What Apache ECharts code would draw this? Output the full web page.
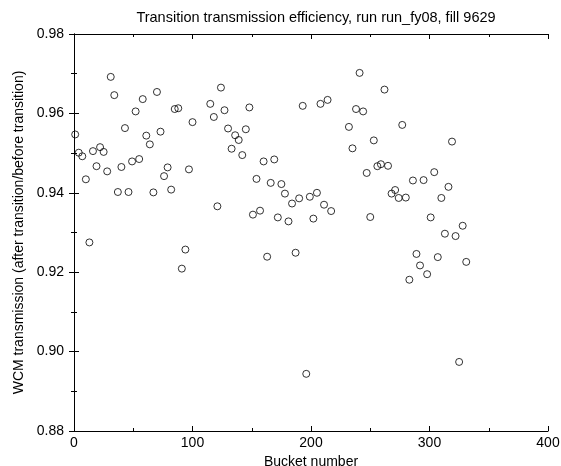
<!DOCTYPE html>
<html>
<head>
<meta charset="utf-8">
<script src="https://cdn.jsdelivr.net/npm/echarts@6/dist/echarts.min.js"></script>
<style>html,body{margin:0;padding:0;background:#fff}#c{width:561px;height:466px}</style>
</head>
<body>
<div id="c"></div>
<script>
const buckets = [1,4,7,10,13,16,19,22,25,28,31,34,37,40,43,46,49,52,55,58,61,64,67,70,73,76,79,82,85,88,91,94,97,100,
115,118,121,124,127,130,133,136,139,142,145,148,151,154,157,160,163,166,169,172,175,178,181,184,187,190,193,196,199,202,205,208,211,214,217,
232,235,238,241,244,247,250,253,256,259,262,265,268,271,274,277,280,283,286,289,292,295,298,301,304,307,310,313,316,319,322,325,328,331];
const transmission = [0.9547,0.9501,0.9492,0.9434,0.9275,0.9505,0.9467,0.9515,0.9503,0.9454,0.9692,0.9646,0.9402,0.9465,0.9563,0.9402,0.9479,0.9605,0.9485,0.9636,0.9544,0.9522,0.9401,0.9654,0.9554,0.9442,0.9464,0.9408,0.9611,0.9613,0.9209,0.9257,0.9459,0.9578,
0.9624,0.9591,0.9366,0.9665,0.9608,0.9562,0.9511,0.9545,0.9533,0.9495,0.9560,0.9615,0.9345,0.9435,0.9355,0.9479,0.9239,0.9425,0.9484,0.9338,0.9422,0.9398,0.9328,0.9373,0.9249,0.9386,0.9619,0.8944,0.9390,0.9335,0.9400,0.9624,0.9370,0.9634,0.9354,
0.9566,0.9512,0.9611,0.9702,0.9605,0.9450,0.9339,0.9532,0.9467,0.9472,0.9660,0.9468,0.9398,0.9407,0.9387,0.9571,0.9388,0.9181,0.9431,0.9246,0.9217,0.9432,0.9195,0.9338,0.9452,0.9238,0.9387,0.9297,0.9415,0.9529,0.9291,0.8974,0.9317,0.9226];
const titleText = 'Transition transmission efficiency, run run_fy08, fill 9629';
const xName = 'Bucket number';
const yName = 'WCM transmission (after transition/before transition)';

const font = 'Liberation Sans, Arial, sans-serif';
const chart = echarts.init(document.getElementById('c'), null, {renderer:'canvas'});
function mkAxis(extra, major, showLine){
  return Object.assign({
    type:'value',
    axisLine:{show:showLine,lineStyle:{color:'#000',width:1}},
    axisTick:{show:true,inside:true,length:major?5:3,lineStyle:{color:'#000',width:1}},
    axisLabel:{show:false},
    splitLine:{show:false}
  }, extra);
}
const xr = {min:0,max:400};
const yr = {min:0.88,max:0.98};
chart.setOption({
  animation:false,
  backgroundColor:'#fff',
  title:{text:titleText,left:311,textAlign:'center',top:5,textStyle:{fontFamily:font,fontSize:14.5,fontWeight:'normal',color:'#000'}},
  grid:{left:74,right:13,top:34,bottom:35,containLabel:false,outerBoundsMode:'none'},
  xAxis:[
    mkAxis(Object.assign({interval:100,position:'bottom',
      name:xName,nameLocation:'middle',nameGap:22,nameTextStyle:{fontFamily:font,fontSize:14,color:'#000'},
      axisLabel:{show:true,fontFamily:font,fontSize:14,color:'#000',margin:5}},xr),true,true),
    mkAxis(Object.assign({interval:50,position:'bottom'},xr),false,false),
    mkAxis(Object.assign({interval:100,position:'top'},xr),true,true),
    mkAxis(Object.assign({interval:50,position:'top'},xr),false,false)
  ],
  yAxis:[
    mkAxis(Object.assign({interval:0.02,position:'left',
      name:yName,nameLocation:'middle',nameGap:44,nameTextStyle:{fontFamily:font,fontSize:14,color:'#000'},
      axisLabel:{show:true,fontFamily:font,fontSize:14,color:'#000',margin:10,formatter:v=>v.toFixed(2)}},yr),true,true),
    mkAxis(Object.assign({interval:0.01,position:'left'},yr),false,false),
    mkAxis(Object.assign({interval:0.02,position:'right'},yr),true,true),
    mkAxis(Object.assign({interval:0.01,position:'right'},yr),false,false)
  ],
  series:[{
    type:'scatter',
    xAxisIndex:0,yAxisIndex:0,
    data:buckets.map((b,i)=>[b,transmission[i]]),
    symbol:'circle',symbolSize:7,
    itemStyle:{color:'rgba(0,0,0,0)',borderColor:'#000',borderWidth:1}
  }]
});
</script>
</body>
</html>
